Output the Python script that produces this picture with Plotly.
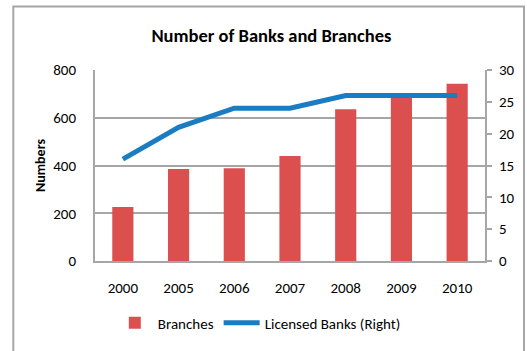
import plotly.graph_objects as go

# Number of banks and branches by year
years = ["2000", "2005", "2006", "2007", "2008", "2009", "2010"]
branches = [226, 385, 389, 440, 636, 690, 742]
licensed_banks = [16, 21, 24, 24, 26, 26, 26]

left_ticks = [0, 200, 400, 600, 800]
right_ticks = [0, 5, 10, 15, 20, 25, 30]

FONT = "Carlito, Lato, 'Liberation Sans', sans-serif"
GRID = "#a6a6a6"

fig = go.Figure()
fig.add_trace(go.Bar(
    x=years, y=branches, name="Branches",
    marker=dict(color="#dc4f4f", line=dict(width=0)),
))
fig.add_trace(go.Scatter(
    x=years, y=licensed_banks, name="Licensed Banks (Right)", yaxis="y2",
    mode="lines", line=dict(color="#1a7cc1", width=5),
))

fig.update_layout(
    width=527, height=351,
    margin=dict(l=95, r=31, t=70, b=89),
    paper_bgcolor="white", plot_bgcolor="white",
    font=dict(family=FONT, size=15, color="#000000"),
    title=dict(text="<b>Number of Banks and Branches</b>", x=0.515, xanchor="center",
               y=0.9, yanchor="middle", font=dict(size=18.5, family=FONT)),
    bargap=0.62,
    showlegend=True,
    legend=dict(orientation="h", x=0.42, xanchor="center", y=-0.325, yanchor="middle",
                font=dict(size=15), itemwidth=36, bgcolor="rgba(0,0,0,0)"),
    xaxis=dict(showgrid=False, showline=True, linecolor=GRID, linewidth=2,
               ticks="", tickfont=dict(size=15), ticklabelstandoff=12),
    yaxis=dict(range=[0, 800], tickvals=left_ticks, showgrid=True, gridcolor=GRID,
               gridwidth=2, showline=True, linecolor=GRID, linewidth=2, zeroline=False,
               ticks="", ticklabelstandoff=14,
               title=dict(text="<b>Numbers</b>", font=dict(size=14), standoff=4)),
    yaxis2=dict(range=[0, 30], tickvals=right_ticks, overlaying="y", side="right",
                showgrid=False, showline=True, linecolor=GRID, linewidth=2,
                ticks="outside", ticklen=5, tickcolor=GRID, tickwidth=2, zeroline=False,
                ticklabelstandoff=4),
    shapes=[dict(type="rect", xref="paper", yref="paper", x0=-0.2095, x1=1.1,
                 y0=-0.5, y1=1.333, line=dict(color="#a6a6a6", width=2),
                 fillcolor="rgba(0,0,0,0)", layer="below")],
)

fig.write_html("out.html")
